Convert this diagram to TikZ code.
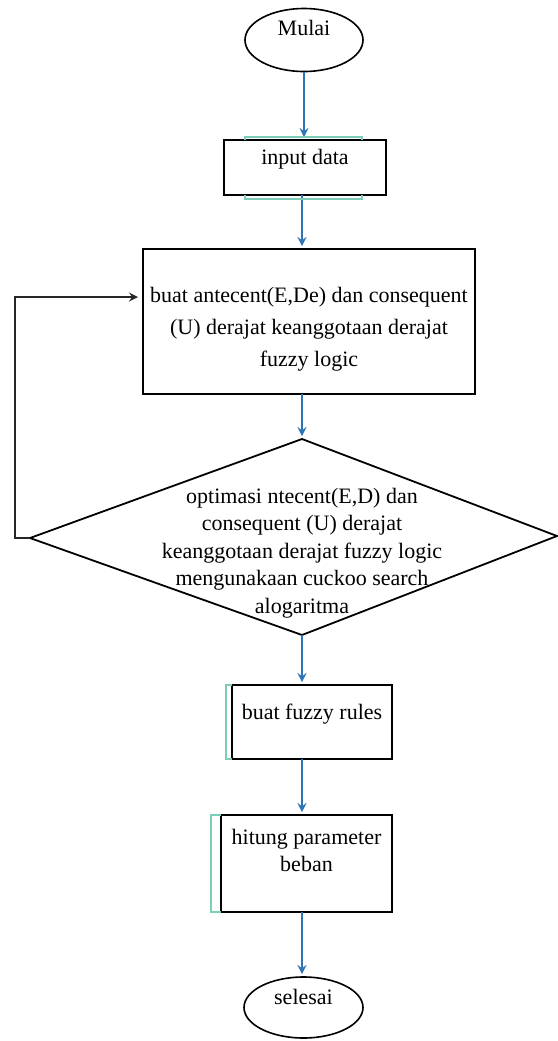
\documentclass[tikz,border=0pt]{standalone}
\usepackage{fontspec}
\setmainfont{Liberation Serif}
\usepackage{tikz}
\usetikzlibrary{shapes,arrows,positioning,calc}

\definecolor{flowblue}{RGB}{46,117,182}
\definecolor{boxmint}{RGB}{125,205,185}

\begin{document}
\begin{tikzpicture}[
  x=0.5pt, y=-0.5pt,
  font=\fontsize{11}{16}\selectfont,
  terminal/.style={ellipse, draw, line width=0.8pt, inner sep=0pt, outer sep=0pt, text height=8pt},
  block/.style={rectangle, draw, line width=1pt, inner sep=0pt, outer sep=0pt, align=center, text height=8pt},
  flow/.style={->, >=stealth, draw=flowblue, line width=1pt, shorten >=1.5pt},
  back/.style={->, >=stealth, draw=black!85, line width=1pt, shorten >=2.5pt},
  mint/.style={draw=boxmint, line width=0.6pt}
]
\useasboundingbox (0,0) rectangle (558,1041);

% Start and input
\node[terminal, minimum width=59pt, minimum height=31.5pt, text depth=13pt] (start) at (304,40) {Mulai};
\node[block, below=34.25pt of start, xshift=0.5pt, minimum width=81pt, minimum height=27.5pt, text depth=11pt] (input) {input data};
\node[block, below=27pt of input, xshift=2pt, minimum width=166pt, minimum height=72.5pt, text height=44.5pt, text depth=0pt] (antec) {buat antecent(E,De) dan consequent\\(U) derajat keanggotaan derajat\\fuzzy logic};

% Decision
\coordinate[below=22.5pt of antec, xshift=-3.5pt] (dtop);
\coordinate (dleft) at ($(dtop)+(-272,99)$);
\coordinate (dright) at ($(dtop)+(255,97)$);
\coordinate (dbot) at ($(dtop)+(0,196)$);
\draw[line width=0.9pt] (dtop) -- (dright) -- (dbot) -- (dleft) -- cycle;
\node[align=center, font=\fontsize{11}{13.75}\selectfont] (optim) at ($(dtop)+(0,114)$) {optimasi ntecent(E,D) dan\\consequent (U) derajat\\keanggotaan derajat fuzzy logic\\mengunakaan cuckoo search\\alogaritma};

% Rules, load, end
\node[block, below=25pt of dbot, xshift=5pt, minimum width=80pt, minimum height=37pt, text depth=11pt] (rules) {buat fuzzy rules};
\node[block, below=28pt of rules, xshift=-2.75pt, minimum width=85.5pt, minimum height=48.5pt, text height=8pt, text depth=0.5pt, font=\fontsize{11}{13.5}\selectfont] (hitung) {hitung parameter\\beban};
\node[terminal, below=32.5pt of hitung, xshift=-1.5pt, minimum width=59.5pt, minimum height=30.5pt, text depth=11.5pt] (stop) {selesai};

% Arrows
\draw[flow] (start.south) -- (start.south |- input.north);
\draw[flow] (input.south -| dtop) -- (antec.north -| dtop);
\draw[flow] (antec.south -| dtop) -- (dtop);
\draw[flow] (dbot) -- (rules.north -| dbot);
\draw[flow] (rules.south -| dbot) -- (hitung.north -| dbot);
\draw[flow] (hitung.south -| dbot) -- (stop.north -| dbot);

% Loop back
\draw[back] (dleft) -- ++(-15,0) |- ([yshift=12.25pt]antec.west);

% Frame marks
\draw[mint] ($(input.north west)+(21,0)$) -- ++(0,-3) -| ($(input.north east)+(-24,0)$);
\draw[mint] ($(input.south west)+(21,0)$) -- ++(0,4) -| ($(input.south east)+(-24,0)$);
\draw[mint] (rules.north west) -- ++(-6,0) |- (rules.south west);
\draw[mint] (hitung.north west) -- ++(-10,0) |- (hitung.south west);

\end{tikzpicture}
\end{document}
